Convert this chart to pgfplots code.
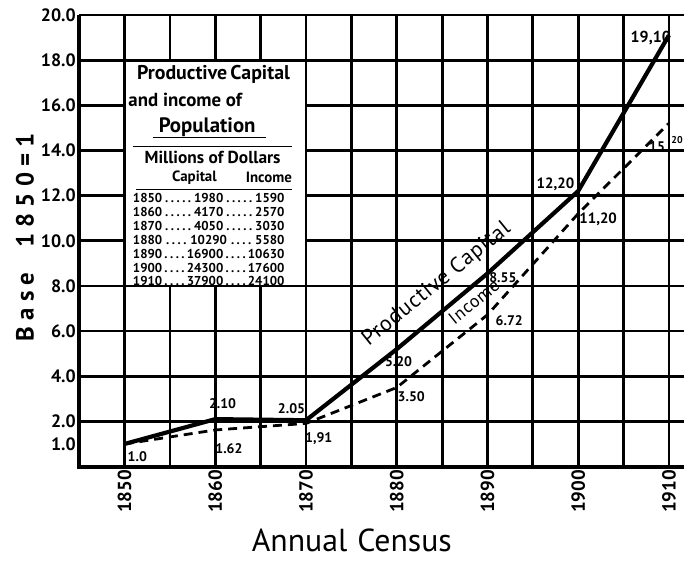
\documentclass[border=0pt]{standalone}
\usepackage{pgfplots}
\pgfplotsset{compat=1.18}
\usepackage{fontspec}
\setmainfont{PT Sans}
\newcommand{\fs}[1]{\fontsize{#1}{#1}\selectfont}
\begin{document}
\begin{tikzpicture}
\path (-79.5bp,-95bp) rectangle (606.5bp,468bp);
\begin{axis}[
  scale only axis, width=606.5bp, height=453bp,
  xmin=-0.5, xmax=6.165, ymin=0, ymax=20,
  axis line style={draw=none},
  xtick={0,1,2,3,4,5,6},
  xticklabels={1850,1860,1870,1880,1890,1900,1910},
  minor xtick={0.5,1.5,2.5,3.5,4.5,5.5},
  ytick={2,4,6,8,10,12,14,16,18,20},
  yticklabels={2.0,4.0,6.0,8.0,10.0,12.0,14.0,16.0,18.0,20.0},
  extra y ticks={1}, extra y tick labels={1.0},
  extra y tick style={grid=none},
  grid=both,
  major grid style={black, line width=2.8bp},
  minor grid style={black, line width=2.8bp},
  tick style={draw=none},
  xticklabel style={rotate=90, anchor=east, font=\fs{19}\bfseries},
  yticklabel style={font=\fs{18}\bfseries},
  clip=false,
]
% x = decades since 1850 (0 = 1850, ..., 6 = 1910)
\addplot[black, line width=4.2bp] coordinates {(0,1.0)(1,2.10)(2,2.05)(3,5.20)(4,8.55)(5,12.20)(6,19.10)};
\addplot[black, line width=2.8bp, dash pattern=on 9bp off 6bp] coordinates {(0,1.0)(1,1.62)(2,1.91)(3,3.50)(4,6.72)(5,11.20)(6,15.20)};
% axis lines
\draw[line width=4bp] (rel axis cs:0,1) -- (rel axis cs:0,0) -- (rel axis cs:1,0);
% table box
\filldraw[fill=white, draw=black, line width=2.8bp] (axis cs:0,8) rectangle (axis cs:2,18);
\node[font=\fs{20}\bfseries, inner sep=0pt] at (axis cs:0.98,17.35) {Productive\,Capital};
\node[font=\fs{19}\bfseries, anchor=west, inner sep=0pt] at (axis cs:0.04,16.25) {and income of};
\node[font=\fs{21}\bfseries, inner sep=0pt] at (axis cs:0.91,15.05) {Population};
\draw[line width=1.6bp] (axis cs:0.31,14.57) -- (axis cs:1.56,14.57);
\draw[line width=1.8bp] (axis cs:0.09,14.17) -- (axis cs:1.84,14.17);
\node[font=\fs{17.5}\bfseries, inner sep=0pt] at (axis cs:0.97,13.69) {Millions of Dollars};
\node[font=\fs{15}\bfseries, inner sep=0pt] at (axis cs:0.77,12.80) {Capital};
\node[font=\fs{15}\bfseries, inner sep=0pt] at (axis cs:1.59,12.80) {Income};
\draw[line width=1.8bp] (axis cs:0.13,12.27) -- (axis cs:1.85,12.27);
\node[font=\fs{13}\bfseries, anchor=west, inner sep=0pt] at (axis cs:0.09,11.90) {\hbox to 152bp{1850\dotfill 1980\dotfill 1590}};
\node[font=\fs{13}\bfseries, anchor=west, inner sep=0pt] at (axis cs:0.09,11.28) {\hbox to 152bp{1860\dotfill 4170\dotfill 2570}};
\node[font=\fs{13}\bfseries, anchor=west, inner sep=0pt] at (axis cs:0.09,10.66) {\hbox to 152bp{1870\dotfill 4050\dotfill 3030}};
\node[font=\fs{13}\bfseries, anchor=west, inner sep=0pt] at (axis cs:0.09,10.04) {\hbox to 152bp{1880\dotfill 10290\dotfill 5580}};
\node[font=\fs{13}\bfseries, anchor=west, inner sep=0pt] at (axis cs:0.09,9.42) {\hbox to 152bp{1890\dotfill 16900\dotfill 10630}};
\node[font=\fs{13}\bfseries, anchor=west, inner sep=0pt] at (axis cs:0.09,8.80) {\hbox to 152bp{1900\dotfill 24300\dotfill 17600}};
\node[font=\fs{13}\bfseries, anchor=west, inner sep=0pt] at (axis cs:0.09,8.20) {\hbox to 152bp{1910\dotfill 37900\dotfill 24100}};
% data labels
\node[font=\fs{14}\bfseries] at (axis cs:0.14,0.44) {1.0};
\node[font=\fs{14}\bfseries] at (axis cs:1.08,2.78) {2.10};
\node[font=\fs{14}\bfseries] at (axis cs:1.15,0.79) {1.62};
\node[font=\fs{14}\bfseries] at (axis cs:1.84,2.56) {2.05};
\node[font=\fs{14}\bfseries] at (axis cs:2.14,1.24) {1,91};
\node[font=\fs{14}\bfseries] at (axis cs:3.02,4.64) {5.20};
\node[font=\fs{14}\bfseries] at (axis cs:3.16,3.09) {3.50};
\node[font=\fs{14}\bfseries] at (axis cs:4.17,8.35) {8.55};
\node[font=\fs{14}\bfseries] at (axis cs:4.24,6.45) {6.72};
\node[font=\fs{15}\bfseries] at (axis cs:4.75,12.49) {12,20};
\node[font=\fs{15}\bfseries] at (axis cs:5.22,10.95) {11,20};
\node[font=\fs{16}\bfseries] at (axis cs:5.80,18.98) {19,10};
\node[font=\fs{14}\bfseries] at (axis cs:5.87,14.17) {15};
\node[font=\fs{10}\bfseries] at (axis cs:6.09,14.48) {20};
% line labels
\node[rotate=39, inner sep=0pt, font=\fs{22}\addfontfeature{LetterSpace=4}] at (axis cs:3.44,8.08) {Productive Capital};
\node[rotate=39, inner sep=0pt, font=\fs{18}\addfontfeature{LetterSpace=4}] at (axis cs:3.85,7.30) {Income};
% axis titles
\node[rotate=90, font=\fs{25}\bfseries\addfontfeature{LetterSpace=25}] at (axis cs:-1.1,10.15) {Base\quad 1850=1};
\node[font=\fs{32}, inner sep=0pt] at (axis cs:2.505,-3.25) {Annual\hspace{10bp}Census};
\end{axis}
\end{tikzpicture}
\end{document}
